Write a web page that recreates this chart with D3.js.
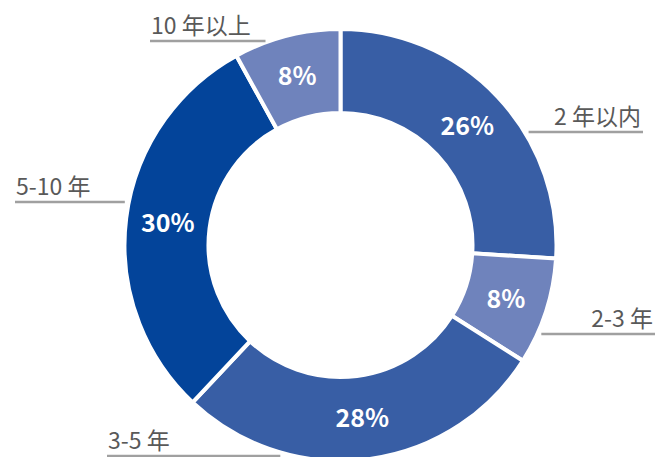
<!DOCTYPE html>
<html>
<head>
<meta charset="utf-8">
<script src="https://cdn.jsdelivr.net/npm/d3@7"></script>
<style>
  body { margin: 0; background: #fff; }
  svg { display: block; font-family: "Noto Sans CJK SC", "Noto Sans", sans-serif; }
</style>
</head>
<body>
<svg id="chart"></svg>
<script>
// data
let categories = ['2 年以内', '2-3 年', '3-5 年', '5-10 年', '10 年以上'];
let shares = [26, 8, 28, 30, 8];
let colors = ['#385ea5', '#6f83bc', '#385ea5', '#03449a', '#6f83bc'];

// label layout: leader line y and outer end x of each label
let labelY = [132, 334, 456, 202, 41];
let labelX = [643, 655, 107, 15, 150];

let w = 659;
let h = 457;
let cx = 340.5, cy = 245;
let outerR = 216, innerR = 132;

function initGraph() {
  let svg = d3.select('#chart')
    .attr('width', w)
    .attr('height', h);

  let pie = d3.pie().sort(null).value(d => d);
  let arcs = pie(shares);

  let arc = d3.arc().innerRadius(innerR).outerRadius(outerR);

  let g = svg.append('g').attr('transform', `translate(${cx},${cy})`);

  g.selectAll('path')
    .data(arcs)
    .enter()
    .append('path')
    .attr('d', arc)
    .attr('fill', (d, i) => colors[i])
    .attr('stroke', '#fff')
    .attr('stroke-width', 4);

  g.selectAll('text.pct')
    .data(arcs)
    .enter()
    .append('text')
    .attr('class', 'pct')
    .attr('transform', d => `translate(${arc.centroid(d)})`)
    .attr('text-anchor', 'middle')
    .attr('dy', '0.36em')
    .attr('fill', '#fff')
    .attr('font-size', 25)
    .attr('font-weight', 'bold')
    .text(d => d.data + '%');

  // leader lines + category labels
  let labels = svg.append('g');
  arcs.forEach((d, i) => {
    let right = labelX[i] > cx;
    let dy = labelY[i] - cy;
    let edge = Math.sqrt(Math.max(outerR * outerR - dy * dy, 0));
    let gap = i === 2 ? 14 : 4;
    let x0 = right ? cx + edge + gap : cx - edge - gap;
    if (i === 2) x0 = cx - edge - gap;

    labels.append('line')
      .attr('x1', x0)
      .attr('x2', labelX[i])
      .attr('y1', labelY[i])
      .attr('y2', labelY[i])
      .attr('stroke', '#a0a0a0')
      .attr('stroke-width', 2.5);

    labels.append('text')
      .attr('x', labelX[i] + (right ? -2 : 1))
      .attr('y', labelY[i] - 7)
      .attr('text-anchor', right ? 'end' : 'start')
      .attr('fill', '#595959')
      .attr('font-size', 23)
      .text(categories[i]);
  });
}

window.onload = initGraph;
</script>
</body>
</html>
